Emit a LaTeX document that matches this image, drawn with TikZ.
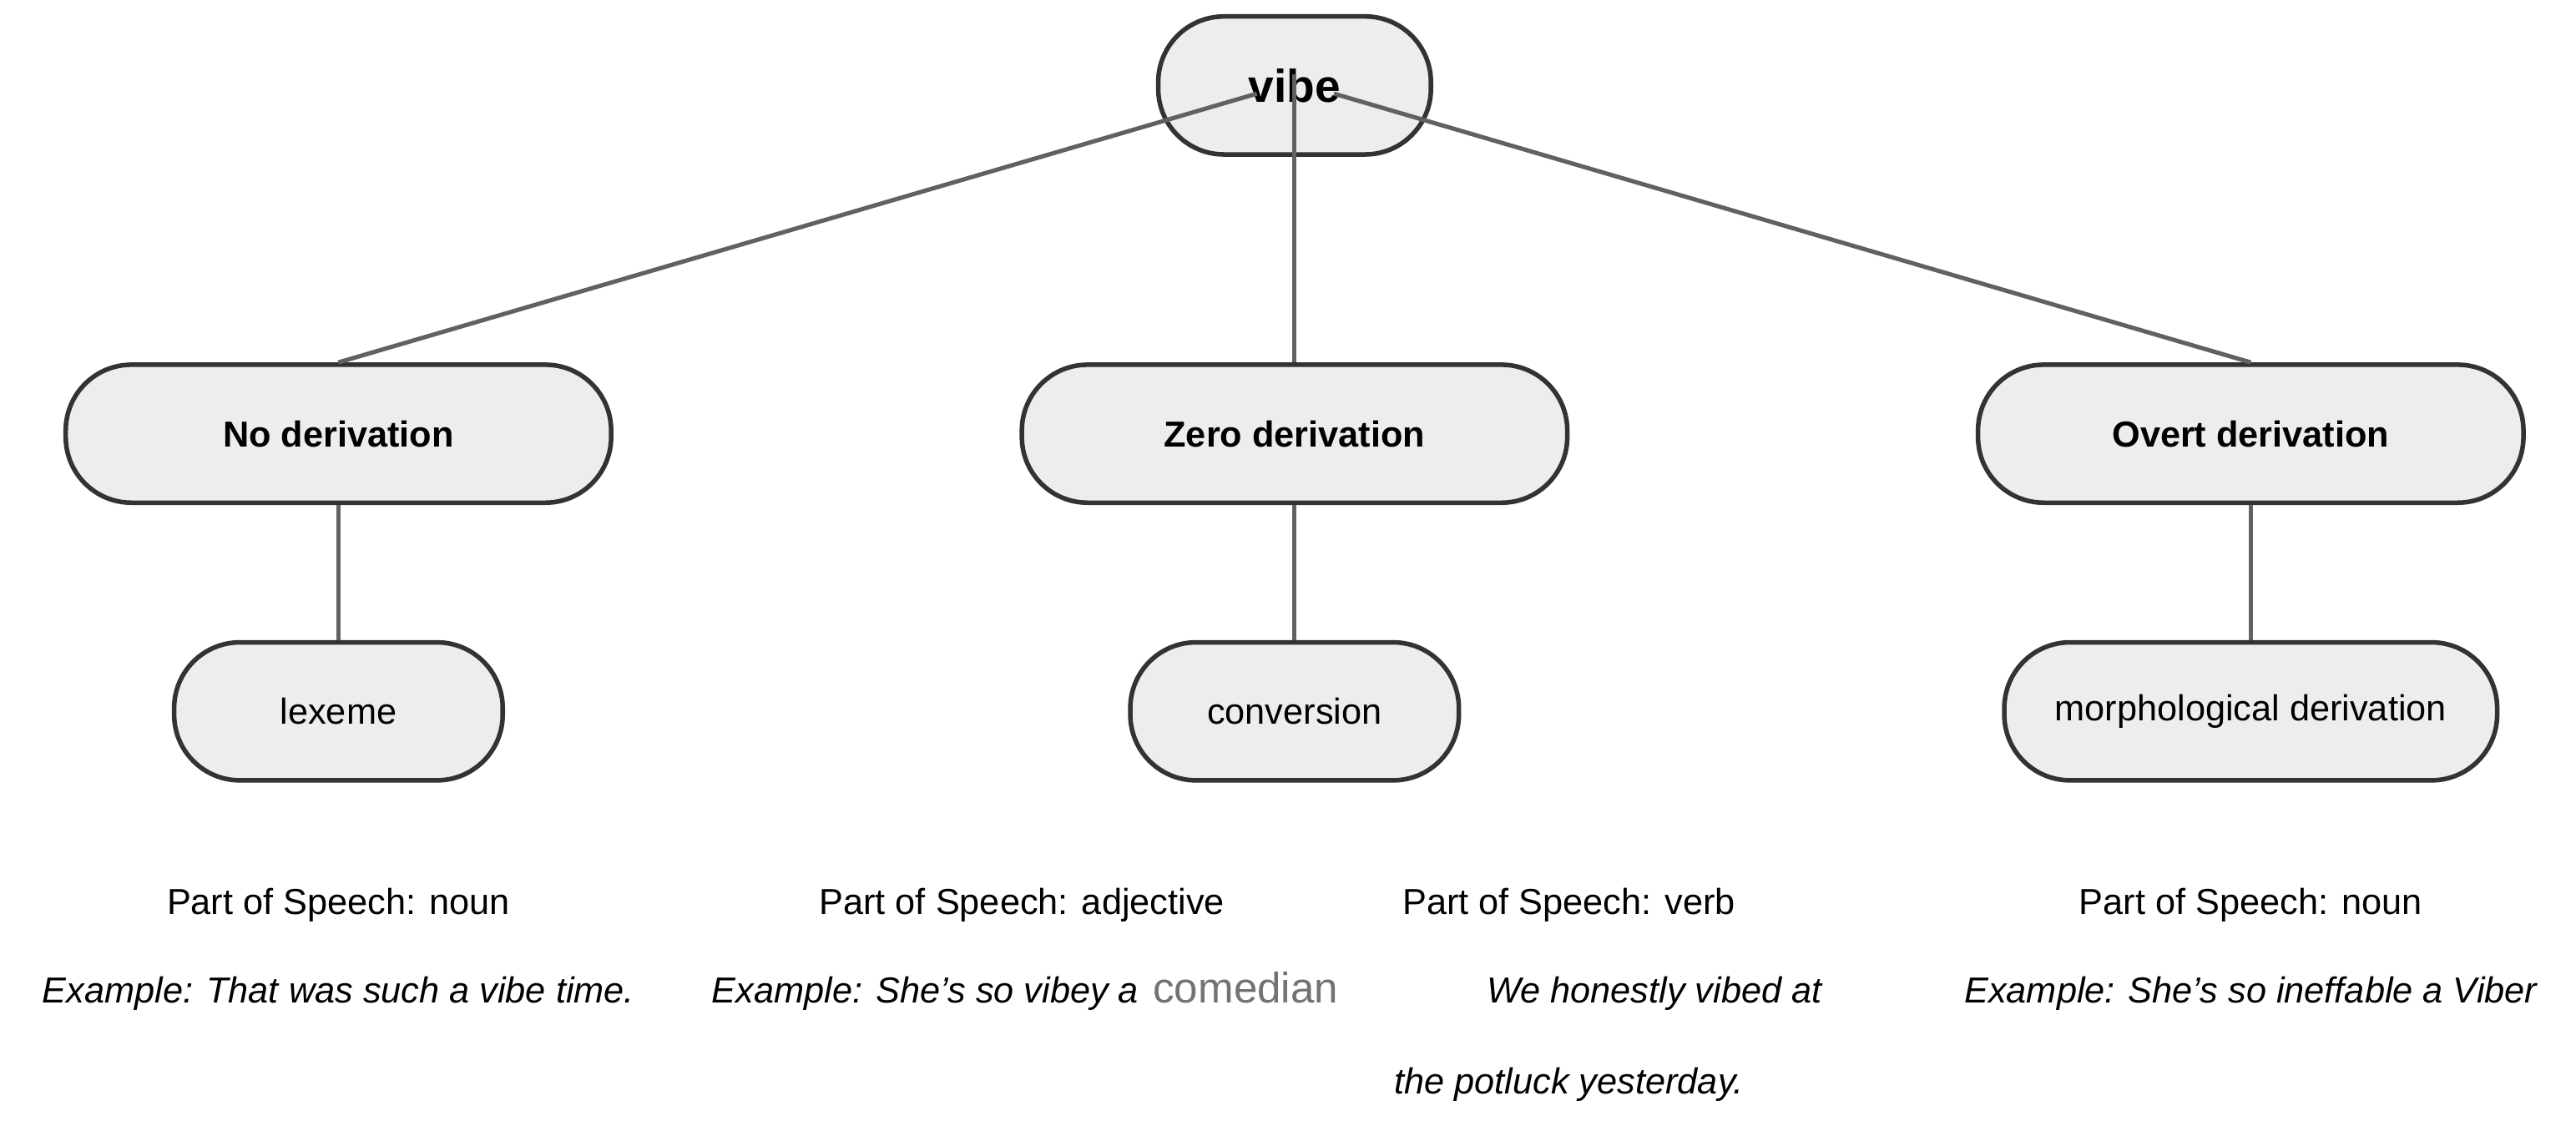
\documentclass[tikz,border=0pt]{standalone}
\usepackage{fontspec}
\setmainfont{Liberation Sans}
\begin{document}
\begin{tikzpicture}[x=0.5pt,y=-0.5pt,
  box/.style={draw=black!80,line width=1.4pt,fill=black!7,rounded corners=20pt,minimum height=42pt,inner sep=0pt},
  conn/.style={draw=black!62,line width=1.3pt},
  txt/.style={font=\fontsize{11}{13}\selectfont,inner sep=0pt},
  ex/.style={font=\fontsize{11}{13}\selectfont\itshape,inner sep=0pt}]
\useasboundingbox (0,0) rectangle (1568,682);
\node[box,minimum width=83pt,font=\fontsize{14}{16}\selectfont\bfseries] (vibe) at (788,52) {vibe};
\node[box,minimum width=166pt,font=\fontsize{11}{13}\selectfont\bfseries] (no) at (206,264) {No derivation};
\node[box,minimum width=166pt,font=\fontsize{11}{13}\selectfont\bfseries] (zero) at (788,264) {Zero derivation};
\node[box,minimum width=166pt,font=\fontsize{11}{13}\selectfont\bfseries] (overt) at (1370,264) {Overt derivation};
\node[box,minimum width=100pt,txt] (lex) at (206,433) {lexeme};
\node[box,minimum width=100pt,txt] (conv) at (788,433) {conversion};
\node[box,minimum width=150pt,txt] (morph) at (1370,433) {morphological derivation};
\coordinate (vl) at (765,57);
\coordinate (vm) at (788,45);
\coordinate (vr) at (812,57);
\draw[conn] (vl) -- (no.north);
\draw[conn] (vm) -- (zero.north);
\draw[conn] (vr) -- (overt.north);
\draw[conn] (no) -- (lex);
\draw[conn] (zero) -- (conv);
\draw[conn] (overt) -- (morph);
\node[txt] (p1) at (206,551) {Part of Speech: noun};
\node[ex] (e1) at (206,605) {Example: That was such a vibe time.};
\node[txt] (p2) at (622,551) {Part of Speech: adjective};
\node[ex,anchor=west] (e2) at (433,605) {Example: She's so vibey a};
\node[inner sep=0pt,anchor=base west,text=black!55,font=\fontsize{13}{15}\selectfont] (e2b) at ([xshift=4pt]e2.base east) {comedian};
\node[txt] (p3) at (955,551) {Part of Speech: verb};
\node[ex] (e3) at (1007,605) {We honestly vibed at};
\node[ex] (e3b) at (955,660) {the potluck yesterday.};
\node[txt] (p4) at (1370,551) {Part of Speech: noun};
\node[ex] (e4) at (1370,605) {Example: She's so ineffable a Viber};
\end{tikzpicture}
\end{document}
